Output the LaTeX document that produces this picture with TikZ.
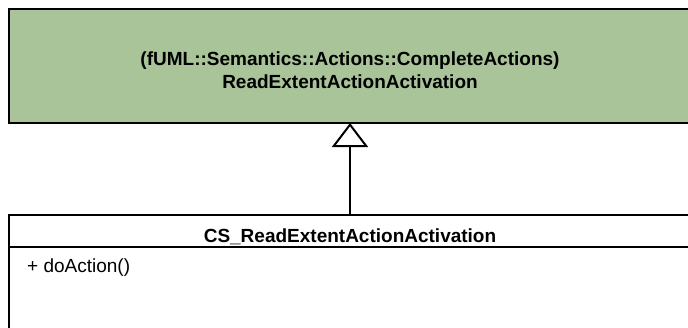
\documentclass[tikz,border=0pt]{standalone}
\usepackage{fontspec}
\setmainfont{Liberation Sans}
\usetikzlibrary{arrows.meta}
\definecolor{umlgreen}{RGB}{168,196,152}
\begin{document}
\begin{tikzpicture}[x=1pt,y=-1pt,
  boxline/.style={draw=black,line width=2pt},
  title/.style={font=\fontsize{19}{23}\selectfont\bfseries,align=center,inner sep=0pt},
  member/.style={font=\fontsize{19}{23}\selectfont,anchor=base west,inner sep=0pt}]
\useasboundingbox (0,0) rectangle (688,327);
\clip (0,0) rectangle (688,327);
% superclass
\node[boxline,fill=umlgreen,rectangle,minimum width=700pt,minimum height=114pt,anchor=north west,inner sep=0pt] (super) at (8,8) {};
\node[title,anchor=base] (superA) at (350,65) {(fUML::Semantics::Actions::CompleteActions)};
\node[title,anchor=base] (superB) at (350,88) {ReadExtentActionActivation};
% subclass
\node[boxline,fill=white,rectangle,minimum width=700pt,minimum height=140pt,anchor=north west,inner sep=0pt] (sub) at (8,214) {};
\coordinate (sep) at (8,247);
\draw[line width=2pt] (sep) -- ++(700,0);
\node[title,anchor=base] (subname) at (350,242) {CS\_ReadExtentActionActivation};
\node[member] (op) at (27,272) {+ doAction()};
% generalization
\coordinate (subtop) at (350,214);
\coordinate (supbot) at (350,123);
\draw[line width=2pt,-{Triangle[open,length=24pt,width=36pt,line width=2pt]}] (subtop) -- (supbot);
\end{tikzpicture}
\end{document}
